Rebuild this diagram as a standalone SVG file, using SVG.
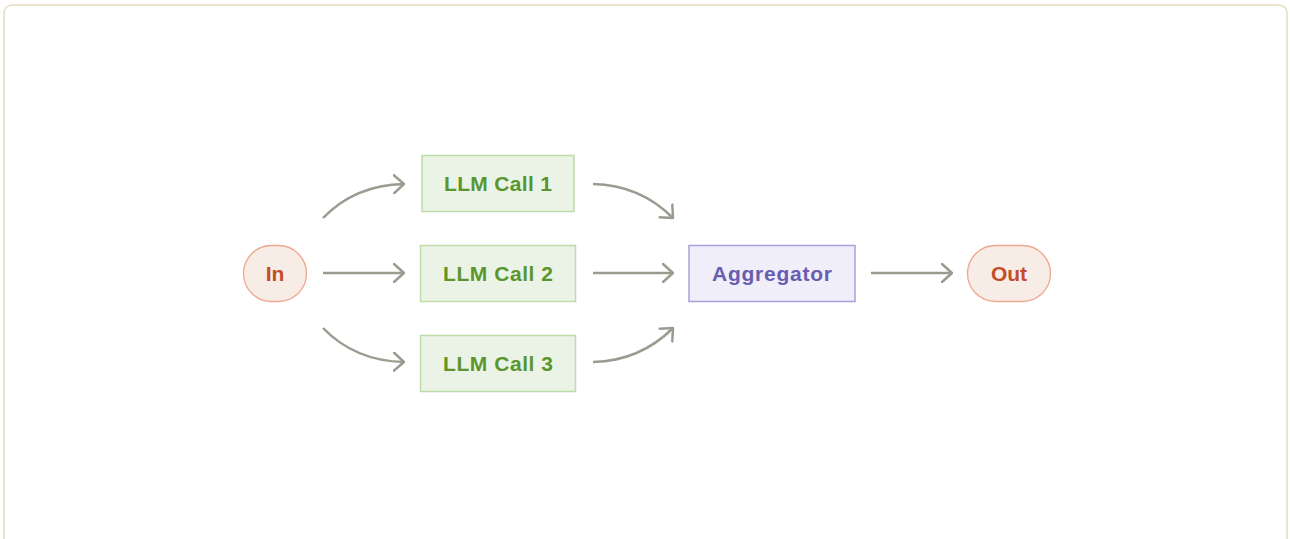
<svg xmlns="http://www.w3.org/2000/svg" width="1290" height="539" viewBox="0 0 1290 539">
  <defs>
    <marker id="chev" viewBox="0 0 12 20" refX="11" refY="10" markerWidth="12" markerHeight="20" markerUnits="userSpaceOnUse" orient="auto">
      <path d="M1,1 L11,10 L1,19" fill="none" stroke="#9b9c90" stroke-width="2.5" stroke-linecap="round" stroke-linejoin="round"/>
    </marker>
    <style>
      .frame { fill: #ffffff; stroke: #e6dcc2; stroke-width: 1.5; }
      .term { fill: #f8ece6; stroke: #eda88e; stroke-width: 1.3; }
      .term-t { fill: #c24e28; font-family: "Liberation Sans", sans-serif; font-weight: 700; font-size: 21px; }
      .llm { fill: #ebf3e6; stroke: #bcdca8; stroke-width: 1.5; }
      .llm-t { fill: #5a962e; font-family: "Liberation Sans", sans-serif; font-weight: 700; font-size: 21px; }
      .agg { fill: #efeef9; stroke: #a9a1dc; stroke-width: 1.5; }
      .agg-t { fill: #6a5cb0; font-family: "Liberation Sans", sans-serif; font-weight: 700; font-size: 21px; }
      .edge { fill: none; stroke: #9b9c90; stroke-width: 2.5; marker-end: url(#chev); }
    </style>
  </defs>

  <rect class="frame" x="4" y="5" width="1283" height="545" rx="8"/>

  <g id="connectors">
    <path class="edge" d="M323,218 Q355,185 404,184"/>
    <path class="edge" d="M323,273 L404,273"/>
    <path class="edge" d="M323,328 Q355,361 404,362"/>
    <path class="edge" d="M593,184 Q640,185 673,218"/>
    <path class="edge" d="M593,273 L673,273"/>
    <path class="edge" d="M593,362 Q640,361 673,328"/>
    <path class="edge" d="M871,273 L952,273"/>
  </g>

  <g id="node-in">
    <rect class="term" x="243.5" y="245.5" width="63" height="56" rx="28"/>
    <text class="term-t" x="275" y="281" text-anchor="middle">In</text>
  </g>

  <g id="node-llm1">
    <rect class="llm" x="422" y="155.5" width="152" height="56"/>
    <text class="llm-t" x="498" y="191" text-anchor="middle" textLength="108">LLM Call 1</text>
  </g>

  <g id="node-llm2">
    <rect class="llm" x="420.5" y="245.5" width="155" height="56"/>
    <text class="llm-t" x="498" y="281" text-anchor="middle" textLength="110">LLM Call 2</text>
  </g>

  <g id="node-llm3">
    <rect class="llm" x="420.5" y="335.5" width="155" height="56"/>
    <text class="llm-t" x="498" y="371" text-anchor="middle" textLength="110">LLM Call 3</text>
  </g>

  <g id="node-aggregator">
    <rect class="agg" x="689" y="245.5" width="166" height="56"/>
    <text class="agg-t" x="772" y="281" text-anchor="middle" textLength="120">Aggregator</text>
  </g>

  <g id="node-out">
    <rect class="term" x="967.5" y="245.5" width="83" height="56" rx="28"/>
    <text class="term-t" x="1009" y="281" text-anchor="middle">Out</text>
  </g>
</svg>
